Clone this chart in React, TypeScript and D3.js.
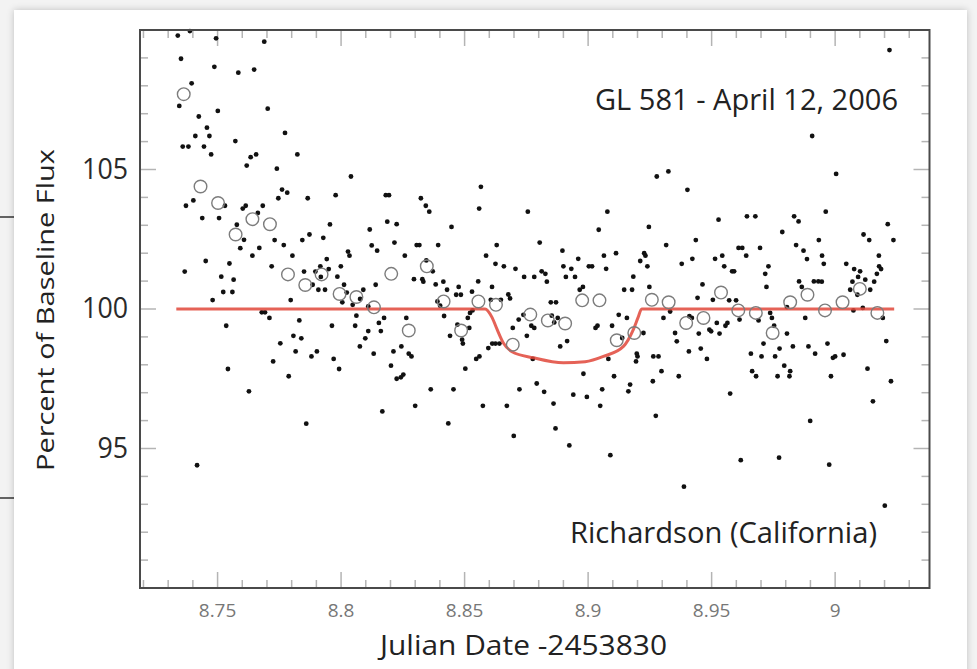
import React from "react";
import * as d3 from "d3";

// Individual measurements (Julian Date - 2453830, percent of baseline flux)
const dotDate = [
  8.7339,8.7388,8.7494,8.7689,8.7352,8.7487,8.7584,8.7648,8.7395,8.7345,
  8.7501,8.7703,8.7424,8.7457,8.7410,8.7467,8.7773,8.7572,8.7359,8.7382,
  8.7445,8.7474,8.7634,8.7656,8.7823,8.7618,8.7740,8.8040,8.7761,8.7782,
  8.7746,8.7865,8.7978,8.8181,8.8194,8.7530,8.7402,8.7372,8.7602,8.7614,
  8.7683,8.7663,8.7438,8.7506,8.7578,8.7607,8.7592,8.7669,8.7641,8.7731,
  8.7768,8.7803,8.7843,8.7872,8.7928,8.7955,8.8116,8.8187,8.8225,8.8124,
  8.8146,8.8216,8.8028,8.8034,8.7452,8.7367,8.7548,8.7515,8.7565,8.7719,
  8.7850,8.7896,8.7916,8.7950,8.7942,8.7999,8.7985,8.7918,8.7885,8.7908,
  8.7935,8.8012,8.8023,8.8090,8.8077,8.8140,8.7523,8.7560,8.7480,8.7796,
  8.8005,8.8047,8.8110,8.7679,8.7692,8.7710,8.7535,8.7831,8.7963,8.8057,
  8.8062,8.8174,8.8153,8.8110,8.8161,8.7807,8.7839,8.8098,8.7754,8.8076,
  8.7816,8.7902,8.7880,8.8132,8.8212,8.7725,8.7970,8.7992,8.8202,8.8225,
  8.7542,8.7788,8.7627,8.8167,8.7859,8.7417,8.8323,8.8343,8.8357,8.8566,
  8.8559,8.8756,8.9078,8.9278,8.8447,8.9043,8.9246,8.8306,8.8317,8.8393,
  8.8630,8.8804,8.8258,8.8345,8.8371,8.8587,8.8625,8.8659,8.8706,8.8896,
  8.8960,8.9064,8.9113,8.9227,8.9232,8.9211,8.9240,8.8900,8.8932,8.9003,
  8.9016,8.9073,8.8295,8.8329,8.8333,8.8741,8.8782,8.8812,8.8827,8.8833,
  8.8910,8.8947,8.9183,8.8383,8.8414,8.8555,8.8611,8.8429,8.8476,8.8466,
  8.8485,8.8530,8.8677,8.8684,8.8966,8.8979,8.9146,8.9178,8.9248,8.8390,
  8.8401,8.8606,8.8647,8.8849,8.8870,8.8417,8.8532,8.8522,8.8513,8.8264,
  8.8471,8.8519,8.8441,8.8490,8.8493,8.8738,8.8719,8.8695,8.8770,8.8782,
  8.8853,8.8752,8.8877,8.8863,8.9030,8.9038,8.9097,8.9124,8.9157,8.9224,
  8.9138,8.8641,8.8625,8.8612,8.8596,8.8915,8.8887,8.8244,8.8274,8.8285,
  8.8560,8.8547,8.8776,8.9082,8.9197,8.9200,8.9194,8.9285,8.8252,8.8242,
  8.8503,8.8981,8.9105,8.9262,8.9170,8.9163,8.8792,8.8363,8.8455,8.8722,
  8.8822,8.8940,8.8995,8.9057,8.8300,8.8574,8.8671,8.8860,8.9049,8.9274,
  8.8434,8.8868,8.8699,8.8924,8.9090,9.0220,8.9907,8.9325,8.9402,9.0004,
  8.9962,8.9528,8.9643,8.9677,8.9834,8.9852,9.0213,9.0236,9.0115,9.0138,
  8.9316,8.9436,8.9609,8.9624,8.9696,8.9786,8.9842,8.9934,8.9872,8.9886,
  8.9947,8.9954,9.0177,8.9379,8.9422,8.9514,8.9543,8.9551,8.9640,8.9583,
  8.9591,8.9730,8.9717,9.0045,9.0077,9.0101,9.0093,9.0178,9.0186,9.0169,
  9.0158,9.0070,9.0122,9.0142,9.0061,9.0090,8.9463,8.9722,8.9854,8.9865,
  8.9914,8.9932,8.9946,8.9443,8.9505,8.9571,8.9599,8.9332,8.9305,8.9805,
  9.0074,9.0112,9.0193,8.9613,8.9564,8.9410,8.9420,8.9521,8.9556,8.9491,
  8.9498,8.9737,8.9744,8.9690,8.9879,8.9753,8.9448,8.9532,8.9352,8.9359,
  8.9805,8.9710,8.9775,8.9829,8.9892,8.9919,8.9969,9.0207,8.9408,8.9456,
  8.9481,8.9264,8.9659,8.9702,8.9757,8.9991,9.0000,9.0034,8.9297,8.9367,
  8.9664,8.9680,8.9767,8.9794,8.9818,8.9815,8.9983,9.0131,9.0226,8.9575,
  9.0153,8.9899,8.9618,8.9773,8.9976,8.9388,9.0201,
];
const dotFlux = [
  109.80,109.96,109.70,109.58,108.97,108.68,108.47,108.58,108.09,107.28,
  107.10,107.18,106.90,106.50,106.20,106.20,106.31,106.02,105.82,105.82,
  105.82,105.54,105.44,105.54,105.54,105.14,105.03,104.75,104.28,104.17,
  103.97,103.97,104.08,104.08,104.08,103.70,103.89,103.70,103.60,103.70,
  103.70,103.44,103.26,103.26,103.02,102.48,102.18,102.19,101.91,102.47,
  102.29,101.91,102.47,102.67,102.55,103.03,102.85,103.13,103.04,102.28,
  102.09,102.38,102.06,101.91,101.72,101.34,101.63,101.16,101.05,101.53,
  101.34,101.34,101.53,101.43,101.79,101.53,101.16,101.15,100.87,100.69,
  100.69,100.87,100.59,100.69,100.36,100.87,100.61,100.61,100.32,100.32,
  100.24,100.15,100.09,99.88,99.88,99.68,99.40,99.59,99.40,99.40,
  99.76,99.68,99.50,99.21,99.21,99.04,98.95,98.95,98.77,98.66,
  98.48,98.48,98.30,98.40,98.48,98.12,98.21,97.85,97.97,97.50,
  97.85,97.59,97.05,96.33,95.89,94.40,103.97,103.70,103.49,104.38,
  103.60,103.49,103.49,104.75,102.94,102.84,102.94,102.29,102.29,102.29,
  102.29,102.38,101.91,101.74,101.35,101.91,101.62,101.53,101.44,102.09,
  101.80,101.91,102.00,102.00,101.91,101.72,101.53,101.53,101.44,101.53,
  101.53,101.44,101.07,101.07,100.98,101.15,101.15,101.35,101.26,100.98,
  101.15,101.15,101.16,100.88,100.98,100.99,100.79,100.69,100.79,100.51,
  100.51,100.62,100.52,100.38,100.69,100.79,100.69,100.69,100.79,100.27,
  100.12,100.33,100.33,100.24,100.24,99.75,99.95,99.86,99.68,99.68,
  99.44,99.32,99.04,98.90,98.76,99.79,99.62,99.32,99.40,99.32,
  99.76,99.04,99.68,99.52,99.32,99.40,99.40,99.79,99.68,99.14,
  98.96,98.76,98.76,98.76,98.60,98.85,98.66,98.66,98.40,98.30,
  98.30,98.21,98.21,98.21,98.40,98.30,98.12,98.30,97.65,97.55,
  97.86,97.68,97.59,97.41,97.29,97.05,97.33,97.12,97.12,97.12,
  97.03,96.93,96.85,97.12,96.53,96.53,96.53,96.61,96.53,96.17,
  95.90,95.72,95.45,95.11,94.76,109.28,106.20,104.93,104.27,104.84,
  103.49,103.20,103.32,103.32,103.32,103.14,103.04,102.47,102.67,102.47,
  102.29,102.47,102.19,102.19,102.19,102.76,102.29,102.47,102.09,101.79,
  101.91,101.62,101.91,101.62,101.80,101.80,101.91,101.53,101.91,101.35,
  101.35,101.53,101.26,101.62,101.43,101.35,101.15,101.53,101.43,101.26,
  100.98,100.98,101.05,100.69,100.69,100.51,100.88,100.79,100.99,100.79,
  100.99,100.99,100.98,100.40,100.33,100.31,100.31,99.91,99.68,100.07,
  99.95,100.04,99.68,99.62,99.50,99.74,99.68,99.50,99.40,99.26,
  99.20,99.86,99.68,99.59,99.68,99.40,99.12,99.12,99.14,98.84,
  99.12,98.76,98.58,98.66,98.66,98.40,98.76,98.85,98.48,98.58,
  98.21,98.30,98.40,98.30,98.30,98.25,98.30,98.36,97.77,97.59,
  97.77,97.59,97.59,97.97,97.77,97.59,97.59,97.86,97.41,96.97,
  96.69,95.99,94.58,94.67,94.42,93.63,92.95,
];

// Binned averages (open circles)
const binDate = [
  8.7363,8.7431,8.7502,8.7573,8.7641,8.7712,8.7785,8.7855,8.7921,8.7994,
  8.8062,8.8133,8.8203,8.8274,8.8347,8.8415,8.8486,8.8556,8.8627,8.8695,
  8.8766,8.8837,8.8907,8.8976,8.9046,8.9116,8.9187,8.9258,8.9326,8.9397,
  8.9467,8.9538,8.9608,8.9679,8.9747,8.9818,8.9888,8.9959,9.0030,9.0100,
  9.0171,
];
const binFlux = [
  107.70,104.39,103.80,102.67,103.22,103.04,101.24,100.86,101.24,100.54,
  100.43,100.06,101.26,99.23,101.53,100.27,99.23,100.27,100.15,98.72,
  99.80,99.59,99.48,100.31,100.31,98.88,99.14,100.33,100.24,99.50,
  99.68,100.59,99.95,99.86,99.14,100.24,100.51,99.95,100.24,100.72,
  99.86,
];

// Transit model (red curve)
const modelDate = [8.7333, 8.8583, 8.8611, 8.8632, 8.8657, 8.8692, 8.8779, 8.8900, 8.8988, 8.9062, 8.9143, 8.9183, 8.9202, 8.9217, 9.0239];
const modelFlux = [100, 100, 99.70, 99.26, 98.78, 98.47, 98.25, 98.07, 98.11, 98.30, 98.66, 99.26, 99.69, 100, 100];

const xMajorTicks = [8.75, 8.8, 8.85, 8.9, 8.95, 9.0];
const xTickLabels = ["8.75", "8.8", "8.85", "8.9", "8.95", "9"];
const xMinorTicks = [8.72, 8.73, 8.74, 8.76, 8.77, 8.78, 8.79, 8.81, 8.82, 8.83, 8.84, 8.86, 8.87, 8.88, 8.89, 8.91, 8.92, 8.93, 8.94, 8.96, 8.97, 8.98, 8.99, 9.01, 9.02, 9.03];
const yMajorTicks = [95, 100, 105];
const yTickLabels = ["95", "100", "105"];
const yMinorTicks = [91, 92, 93, 94, 96, 97, 98, 99, 101, 102, 103, 104, 106, 107, 108, 109];

const title = "GL 581 - April 12, 2006";
const credit = "Richardson (California)";
const xTitle = "Julian Date -2453830";
const yTitle = "Percent of Baseline Flux";

export default function App() {
  const L = 140, R = 929.5, T = 30, B = 588;
  const x = d3.scaleLinear().domain([8.7186, 9.0382]).range([L, R]);
  const y = d3.scaleLinear().domain([90, 110]).range([B, T]);
  const line = d3
    .line<number>()
    .x((_, i) => x(modelDate[i]))
    .y((d) => y(d))
    .curve(d3.curveMonotoneX);
  const font = "'Open Sans', 'DejaVu Sans', sans-serif";
  const tickColor = "#b4b4b4";
  const major = 16, minor = 8;

  return (
    <svg
      width={977}
      height={669}
      style={{ position: "absolute", left: 0, top: 0, display: "block" }}
      fontFamily={font}
    >
      <defs>
        <filter id="shadow" x="-5%" y="-5%" width="110%" height="110%">
          <feDropShadow dx="0" dy="0" stdDeviation="3.5" floodColor="#000" floodOpacity="0.22" />
        </filter>
      </defs>
      <rect x={0} y={0} width={977} height={669} fill="#f3f3f3" />
      <line x1={0} x2={16} y1={217} y2={217} stroke="#333" strokeWidth={1.5} />
      <line x1={0} x2={16} y1={498} y2={498} stroke="#333" strokeWidth={1.5} />
      <rect x={14} y={10} width={953} height={700} fill="#fff" filter="url(#shadow)" />

      {/* ticks */}
      <g stroke={tickColor} strokeWidth={1.5}>
        {xMinorTicks.map((t) => (
          <g key={"xm" + t}>
            <line x1={x(t)} x2={x(t)} y1={B} y2={B - minor} />
            <line x1={x(t)} x2={x(t)} y1={T} y2={T + minor} />
          </g>
        ))}
        {xMajorTicks.map((t) => (
          <g key={"xM" + t}>
            <line x1={x(t)} x2={x(t)} y1={B} y2={B - major} />
            <line x1={x(t)} x2={x(t)} y1={T} y2={T + major} />
          </g>
        ))}
        {yMinorTicks.map((t) => (
          <g key={"ym" + t}>
            <line x1={L} x2={L + minor} y1={y(t)} y2={y(t)} />
            <line x1={R} x2={R - minor} y1={y(t)} y2={y(t)} />
          </g>
        ))}
        {yMajorTicks.map((t) => (
          <g key={"yM" + t}>
            <line x1={L} x2={L + major} y1={y(t)} y2={y(t)} />
            <line x1={R} x2={R - major} y1={y(t)} y2={y(t)} />
          </g>
        ))}
      </g>

      {/* data points */}
      <g fill="#111">
        {dotDate.map((d, i) => (
          <circle key={"d" + i} cx={x(d)} cy={y(dotFlux[i])} r={2.4} />
        ))}
      </g>

      {/* model */}
      <path d={line(modelFlux) || ""} fill="none" stroke="#e0463a" strokeOpacity={0.85} strokeWidth={3} />

      {/* binned averages */}
      <g fill="none" stroke="#7c7c7c" strokeWidth={1.4}>
        {binDate.map((d, i) => (
          <circle key={"b" + i} cx={x(d)} cy={y(binFlux[i])} r={6.3} />
        ))}
      </g>

      {/* frame */}
      <rect x={L} y={T} width={R - L} height={B - T} fill="none" stroke="#4a4a4a" strokeWidth={2} />

      {/* tick labels */}
      {xMajorTicks.map((t, i) => (
        <text key={"xl" + t} x={x(t)} y={617} textAnchor="middle" fontSize={19} fill="#777">
          {xTickLabels[i]}
        </text>
      ))}
      {yMajorTicks.map((t, i) => (
        <text
          key={"yl" + t}
          x={128}
          y={y(t) + 9}
          textAnchor="end"
          fontSize={29}
          fill="#2a2a2a"
          textLength={yTickLabels[i].length * 15.3}
          lengthAdjust="spacingAndGlyphs"
        >
          {yTickLabels[i]}
        </text>
      ))}

      {/* axis titles */}
      <text x={523.5} y={655} textAnchor="middle" fontSize={27} fill="#222" textLength={287} lengthAdjust="spacingAndGlyphs">
        {xTitle}
      </text>
      <text
        transform="translate(54,310) rotate(-90)"
        textAnchor="middle"
        fontSize={24}
        fill="#222"
        textLength={322}
        lengthAdjust="spacingAndGlyphs"
      >
        {yTitle}
      </text>

      {/* annotations */}
      <text x={595} y={110} fontSize={30} fill="#222" textLength={303} lengthAdjust="spacingAndGlyphs">
        {title}
      </text>
      <text x={570} y={543} fontSize={30} fill="#222" textLength={307} lengthAdjust="spacingAndGlyphs">
        {credit}
      </text>
    </svg>
  );
}
